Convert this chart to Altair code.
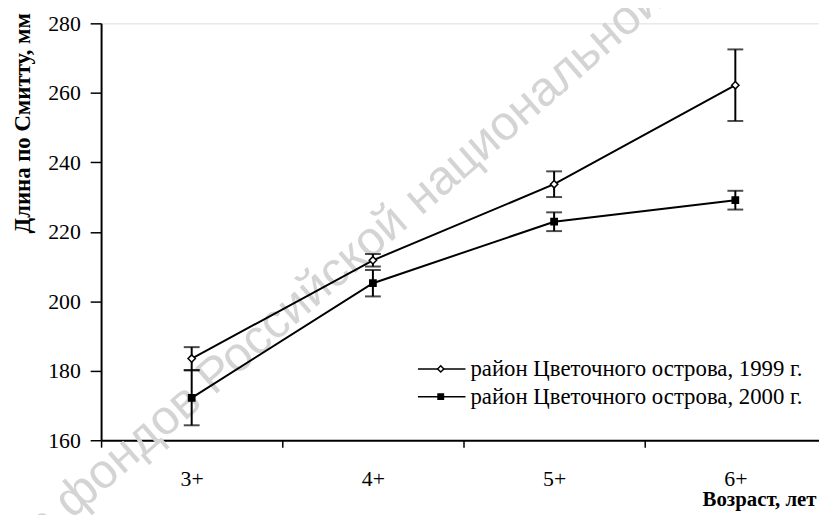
import altair as alt
import pandas as pd

ages = ["3+", "4+", "5+", "6+"]
series = ["район Цветочного острова, 1999 г.", "район Цветочного острова, 2000 г."]
mean_1999 = [183.5, 211.8, 233.7, 262.2]
err_1999 = [3.3, 1.8, 3.7, 10.3]
mean_2000 = [172.2, 205.2, 222.9, 229.1]
err_2000 = [7.9, 3.8, 2.7, 2.7]
y_ticks = [160, 180, 200, 220, 240, 260, 280]
watermark_before = "из фондов Российской"
watermark_after = "национальной библиотеки"

rows = []
for s, means, errs in [(series[0], mean_1999, err_1999), (series[1], mean_2000, err_2000)]:
    for a, m, e in zip(ages, means, errs):
        rows.append({"age": a, "series": s, "mean": m, "lo": m - e, "hi": m + e})
df = pd.DataFrame(rows)

FONT = "Liberation Serif"
W, H = 725, 421

x_enc = alt.X("age:N", sort=ages, scale=alt.Scale(domain=ages, range=[0, 732], paddingInner=0, paddingOuter=0),
              axis=alt.Axis(title="Возраст, лет", labelAngle=0, tickBand="extent", tickSize=7,
                            labelPadding=22, labelFontSize=22, labelFont=FONT, labelColor="black",
                            titleFont=FONT, titleFontSize=21, titleFontWeight="bold", titleColor="black",
                            titleAnchor="end", titleAlign="right", titleX=722, titleY=66,
                            titleBaseline="alphabetic",
                            domainColor="black", domainWidth=2, tickColor="black", tickWidth=1.5, grid=False))
y_enc_axis = alt.Axis(title="Длина по Смитту, мм", values=y_ticks, tickSize=11, labelPadding=10,
                      labelFontSize=22, labelFont=FONT, labelColor="black",
                      titleFont=FONT, titleFontSize=23, titleFontWeight="bold", titleColor="black",
                      titleAnchor="end", titleAlign="right", titleAngle=270, titleX=-79, titleY=-11,
                      titleBaseline="middle",
                      domainColor="black", domainWidth=2, tickColor="black", tickWidth=1.5, grid=False)
y_scale = alt.Scale(domain=[160, 280], nice=False, zero=False)

base = alt.Chart(df)

lines = base.mark_line(color="black", strokeWidth=2).encode(
    x=x_enc,
    y=alt.Y("mean:Q", scale=y_scale, axis=y_enc_axis),
    detail="series:N",
)
rules = base.mark_rule(color="black", strokeWidth=2).encode(
    x=alt.X("age:N", sort=ages), y=alt.Y("lo:Q"), y2="hi:Q")
caps_lo = base.mark_tick(color="black", thickness=2, size=16).encode(
    x=alt.X("age:N", sort=ages), y=alt.Y("lo:Q"))
caps_hi = base.mark_tick(color="black", thickness=2, size=16).encode(
    x=alt.X("age:N", sort=ages), y=alt.Y("hi:Q"))
points = base.mark_point(filled=False, opacity=1, strokeWidth=1.5, stroke="black").encode(
    x=alt.X("age:N", sort=ages),
    y=alt.Y("mean:Q"),
    shape=alt.Shape("series:N", scale=alt.Scale(domain=series, range=["diamond", "square"]), legend=None),
    fill=alt.Fill("series:N", scale=alt.Scale(domain=series, range=["white", "black"]), legend=None),
    size=alt.Size("series:N", scale=alt.Scale(domain=series, range=[55, 40]), legend=None),
)

# watermark
wm_style = dict(font="Liberation Sans", fontSize=49, color="#d4d4d4", angle=319, baseline="alphabetic")
wm1 = alt.Chart(pd.DataFrame({"t": [watermark_before]})).mark_text(align="right", **wm_style).encode(
    text="t:N", x=alt.value(312), y=alt.value(204))
wm2 = alt.Chart(pd.DataFrame({"t": [watermark_after]})).mark_text(align="left", **wm_style).encode(
    text="t:N", x=alt.value(323), y=alt.value(195))

# manual legend
leg_layers = []
leg_y = [349, 377]
leg_fill = ["white", "black"]
leg_shape = ["diamond", "square"]
leg_size = [40, 30]
for i, s in enumerate(series):
    d = pd.DataFrame({"s": [s]})
    c = alt.Chart(d)
    leg_layers.append(c.mark_rule(color="black", strokeWidth=1.5).encode(
        x=alt.value(320), x2=alt.value(368), y=alt.value(leg_y[i])))
    leg_layers.append(c.mark_point(shape=leg_shape[i], filled=True, fill=leg_fill[i], stroke="black",
                                   strokeWidth=1.5, size=leg_size[i], opacity=1).encode(
        x=alt.value(343), y=alt.value(leg_y[i])))
    leg_layers.append(c.mark_text(font=FONT, fontSize=23, color="black", align="left", baseline="middle").encode(
        text="s:N", x=alt.value(373), y=alt.value(leg_y[i])))

chart = alt.layer(wm1, wm2, lines, rules, caps_lo, caps_hi, points, *leg_layers).properties(
    width=W, height=H,
    autosize=alt.AutoSizeParams(type="none"),
    padding={"left": 94, "top": 13, "right": 0, "bottom": 73},
).configure_view(stroke=None).configure(background="white")

chart.save("out.html", embed_options={"renderer": "svg", "actions": False})
